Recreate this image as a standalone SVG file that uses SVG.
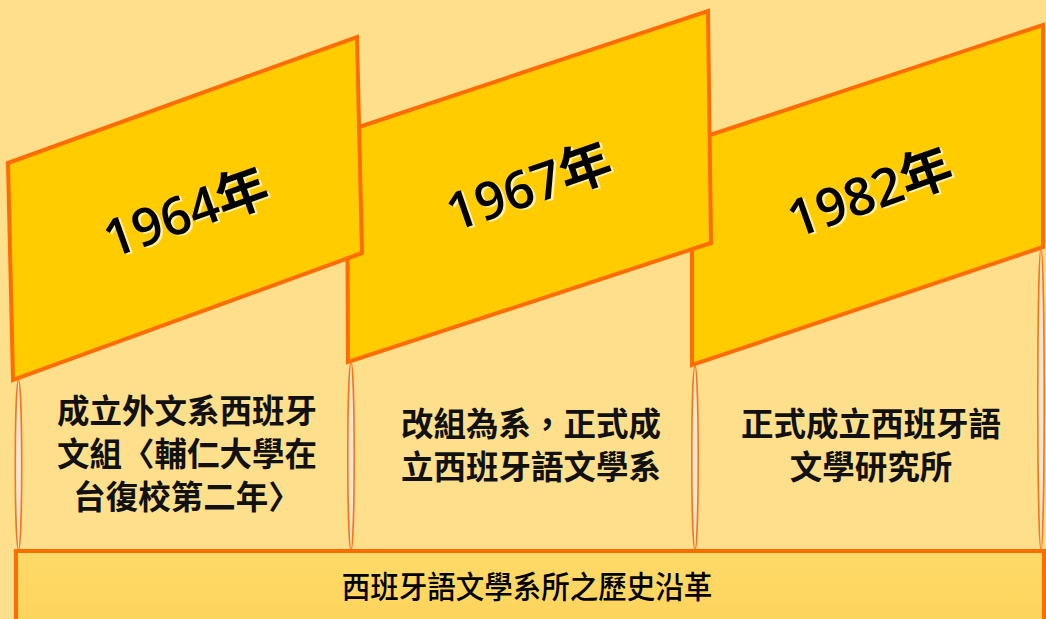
<svg xmlns="http://www.w3.org/2000/svg" width="1046" height="619" viewBox="0 0 1046 619">
<defs>
<style>
.banner{fill:#FFCC00;stroke:#FF6C00;stroke-width:4;stroke-linejoin:miter}
.lens{fill:#FDE6D6;stroke:#FF7412;stroke-width:1.6}
.year{font-family:"Open Sans","Noto Sans","Noto Sans CJK TC",sans-serif;font-size:52px;font-weight:600;text-anchor:middle}
.yshadow{fill:#FFF2A8}
.yfill{fill:#000}
.body{font-family:"Noto Sans CJK TC","Noto Sans CJK SC",sans-serif;font-size:32.5px;font-weight:700;fill:#111;text-anchor:middle}
.bar{fill:url(#barGrad);stroke:#FF6C00;stroke-width:4}
.barText{font-family:"Noto Sans CJK TC","Noto Sans CJK SC",sans-serif;font-size:31px;font-weight:500;fill:#000;text-anchor:middle}
</style>
<linearGradient id="barGrad" x1="0" y1="0" x2="0" y2="1">
<stop offset="0" stop-color="#FFDA68"/>
<stop offset="1" stop-color="#FDD45C"/>
</linearGradient>
</defs>
<rect width="1046" height="619" fill="#FEE08C"/>

<g id="banner-1982">
<polygon class="banner" points="692,141 1043,25 1043,247 692,365"/>
<g transform="translate(870,193) rotate(-19.5)">
<text class="year yshadow" x="2" y="20">1982年</text>
<text class="year yfill" x="0" y="18">1982年</text>
</g>
</g>

<g id="banner-1967">
<polygon class="banner" points="347,131 708,11 711,243 348,362"/>
<g transform="translate(529,187) rotate(-19)">
<text class="year yshadow" x="2" y="20">1967年</text>
<text class="year yfill" x="0" y="18">1967年</text>
</g>
</g>

<g id="banner-1964">
<polygon class="banner" points="8,163 357,37 362,253 13,380"/>
<g transform="translate(186,213) rotate(-19.5)">
<text class="year yshadow" x="2" y="20">1964年</text>
<text class="year yfill" x="0" y="18">1964年</text>
</g>
</g>

<g id="connectors">
<ellipse class="lens" cx="18.5" cy="465" rx="3.2" ry="85"/>
<ellipse class="lens" cx="351" cy="456" rx="3.2" ry="94"/>
<ellipse class="lens" cx="695" cy="458" rx="3.2" ry="92"/>
<ellipse class="lens" cx="1041" cy="399" rx="3.2" ry="151"/>
</g>

<g id="text-1964">
<text class="body" x="187" y="423">成立外文系西班牙</text>
<text class="body" x="187" y="466">文組〈輔仁大學在</text>
<text class="body" x="187" y="509">台復校第二年〉</text>
</g>

<g id="text-1967">
<text class="body" x="531" y="436">改組為系，正式成</text>
<text class="body" x="531" y="479">立西班牙語文學系</text>
</g>

<g id="text-1982">
<text class="body" x="871" y="436">正式成立西班牙語</text>
<text class="body" x="871" y="479">文學研究所</text>
</g>

<g id="title-bar">
<rect class="bar" x="16" y="551" width="1028" height="70"/>
<text class="barText" transform="translate(527,598) scale(0.92,1)" x="0" y="0">西班牙語文學系所之歷史沿革</text>
</g>
</svg>
